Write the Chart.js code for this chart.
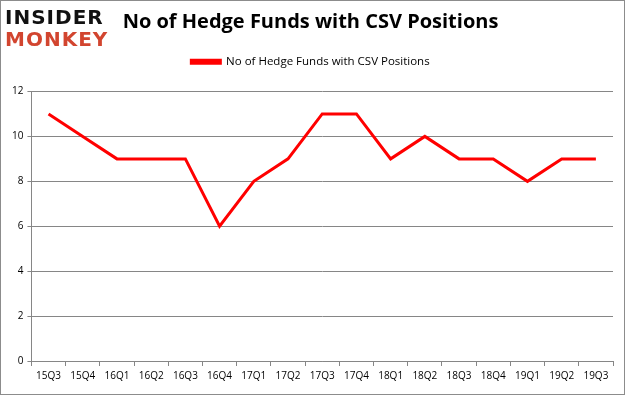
<!DOCTYPE html>
<html lang="en">
<head>
  <meta charset="utf-8">
  <title>CSV Hedge Funds</title>
  <script src="https://cdn.jsdelivr.net/npm/chart.js"></script>
  <style>
    html, body {
      margin: 0;
      padding: 0;
      background: #fff;
    }
    .frame {
      position: relative;
      width: 623px;
      height: 393px;
      border: 1px solid #8c8c8c;
      font-family: "Open Sans", sans-serif;
    }
    .logo {
      position: absolute;
      left: 4px;
      top: 5px;
      font-family: "DejaVu Sans", sans-serif;
      font-weight: bold;
      font-size: 20px;
      line-height: 22px;
    }
    .logo .top { color: #111; letter-spacing: 1px; }
    .logo .bottom { color: #d2452f; letter-spacing: 1px; }
    canvas {
      position: absolute;
      left: 0;
      top: 0;
    }
  </style>
</head>
<body>
  <div class="frame">
    <canvas id="chart" width="623" height="393"></canvas>
    <div class="logo">
      <div class="top">INSIDER</div>
      <div class="bottom">MONKEY</div>
    </div>
  </div>

  <script>
    const quarters = ['15Q3', '15Q4', '16Q1', '16Q2', '16Q3', '16Q4', '17Q1', '17Q2', '17Q3',
                      '17Q4', '18Q1', '18Q2', '18Q3', '18Q4', '19Q1', '19Q2', '19Q3'];
    const hedgeFunds = [11, 10, 9, 9, 9, 6, 8, 9, 11, 11, 9, 10, 9, 9, 8, 9, 9];
    const seriesName = 'No of Hedge Funds with CSV Positions';
    const yTicks = [0, 2, 4, 6, 8, 10, 12];

    // extra room under the legend, like the original
    const legendGap = {
      id: 'legendGap',
      beforeInit(chart) {
        const fit = chart.legend.fit;
        chart.legend.fit = function() {
          fit.call(this);
          this.height += 14;
        };
      },
    };

    const ctx = document.getElementById('chart').getContext('2d');
    new Chart(ctx, {
      type: 'line',
      data: {
        labels: quarters,
        datasets: [{
          label: seriesName,
          data: hedgeFunds,
          borderColor: '#ff0000',
          backgroundColor: '#ff0000',
          borderWidth: 3,
          pointRadius: 0,
          tension: 0,
        }],
      },
      plugins: [legendGap],
      options: {
        responsive: false,
        animation: false,
        layout: { padding: { left: 7, right: 11, top: 4, bottom: 8 } },
        plugins: {
          title: {
            display: true,
            text: seriesName,
            color: '#000',
            font: { family: 'Open Sans', size: 20, weight: 'bold' },
            padding: { top: 5, bottom: 10 },
          },
          legend: {
            display: true,
            labels: {
              color: '#000',
              font: { family: 'Open Sans', size: 11.5 },
              boxWidth: 29,
              boxHeight: 3,
              padding: 12,
            },
          },
          tooltip: { enabled: false },
        },
        scales: {
          x: {
            offset: true,
            grid: {
              display: true,
              offset: true,
              drawOnChartArea: false,
              drawTicks: true,
              tickLength: 5,
              color: '#868686',
            },
            border: { color: '#868686' },
            ticks: {
              color: '#000',
              font: { family: 'Open Sans', size: 10 },
              maxRotation: 0,
              autoSkip: false,
              padding: 4,
            },
          },
          y: {
            min: 0,
            max: 12,
            afterBuildTicks: axis => { axis.ticks = yTicks.map(v => ({ value: v })); },
            grid: {
              color: '#868686',
              drawTicks: true,
              tickLength: 4,
            },
            border: { color: '#868686' },
            ticks: {
              color: '#000',
              font: { family: 'Open Sans', size: 10 },
              padding: 4,
            },
          },
        },
      },
    });
  </script>
</body>
</html>
